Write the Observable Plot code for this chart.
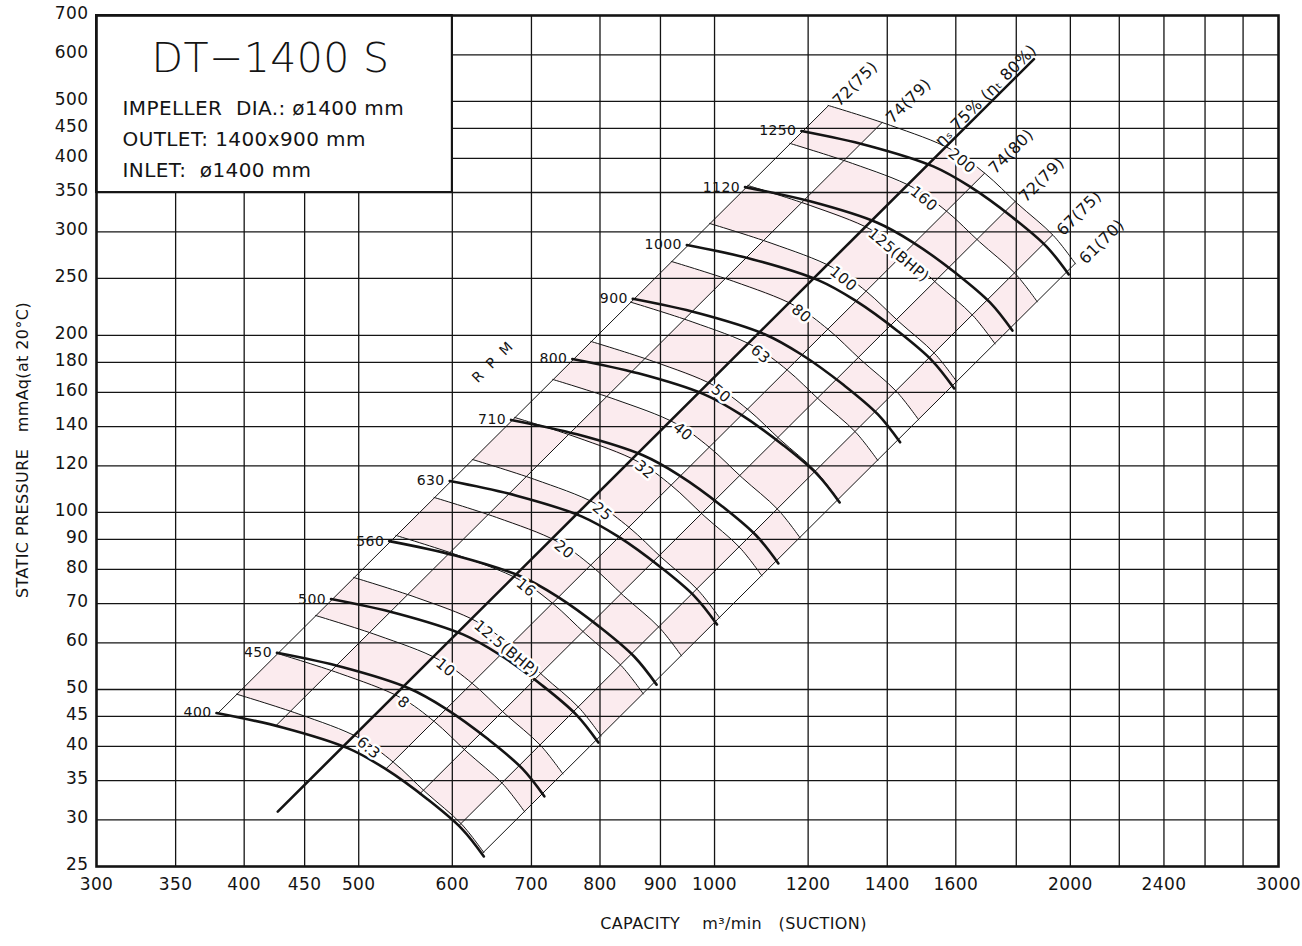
<!DOCTYPE html>
<html>
<head>
<meta charset="utf-8">
<script src="https://cdn.jsdelivr.net/npm/d3@7"></script>
<script src="https://cdn.jsdelivr.net/npm/@observablehq/plot@0.6"></script>
<style>
  html, body { margin: 0; padding: 0; background: #fff; }
  #chart svg { display: block; }
  #chart svg text { letter-spacing: 0.4px; }
</style>
</head>
<body>
<div id="chart"></div>
<script>
// ---------------- data ----------------
const xTickValues = [300, 350, 400, 450, 500, 600, 700, 800, 900, 1000, 1200, 1400, 1600, 2000, 2400, 3000];
const xGridValues = [350, 400, 450, 500, 600, 700, 800, 900, 1000, 1200, 1400, 1600, 1800, 2000, 2200, 2400, 2600, 2800];
const yTickValues = [25, 30, 35, 40, 45, 50, 60, 70, 80, 90, 100, 120, 140, 160, 180, 200, 250, 300, 350, 400, 450, 500, 600, 700];

// speed curves (thick): the 400 rpm curve, others follow the fan laws
const rpmValues = [400, 450, 500, 560, 630, 710, 800, 900, 1000, 1120, 1250];
const rpmBaseQ = [379, 431, 490, 526, 572, 611, 638];        // m3/min at 400 rpm
const rpmBaseP = [45.6, 43.1, 39.7, 36.7, 32.5, 29.0, 26.0]; // mmAq at 400 rpm

// shaft power curves (thin): the 6.3 BHP curve, others follow the fan laws
const bhpValues = [6.3, 8, 10, 12.5, 16, 20, 25, 32, 40, 50, 63, 80, 100, 125, 160, 200];
const bhpLabels = ["6.3", "8", "10", "12.5(BHP)", "16", "20", "25", "32", "40", "50", "63", "80", "100", "125(BHP)", "160", "200"];
const bhpBaseQ = [394, 445, 501, 535, 570, 611, 638];
const bhpBaseP = [49.1, 45.4, 41.3, 37.6, 33.4, 29.5, 26.4];

// efficiency lines (P = K·Q²), given by the capacity where each crosses 100 mmAq
const effLabels = ["72(75)", "74(79)", "ηₛ 75% (ηₜ 80%)", "74(80)", "72(79)", "67(75)", "61(70)"];
const effQat100 = [563, 646, 767, 871, 977, 1122, 1240];
const peakLineP = [31, 590]; // extent of the peak efficiency line

const titleBox = [{x1: 300, x2: 600, y1: 350, y2: 700}];
const titleLines = ["IMPELLER  DIA.: ø1400 mm", "OUTLET: 1400x900 mm", "INLET:  ø1400 mm"];
const modelName = "DT−1400 S";
const yTitle = "STATIC PRESSURE   mmAq(at 20°C)";
const xTitle = "CAPACITY    m³/min   (SUCTION)";

// ---------------- derived geometry ----------------
const rpmCurves = rpmValues.map(n => {
  const f = n / 400;
  return rpmBaseQ.map((q, i) => ({rpm: n, q: q * f, p: rpmBaseP[i] * f * f}));
});
const bhpCurves = bhpValues.map((w, j) => {
  const k = Math.cbrt(w / 6.3);
  return bhpBaseQ.map((q, i) => ({bhp: w, label: bhpLabels[j], q: q * k, p: bhpBaseP[i] * k * k}));
});
const effS = effQat100.map(q => Math.log10(100 / (q * q)));

const sOf = d => Math.log10(d.p) - 2 * Math.log10(d.q);
function crossAt(curve, s) {
  for (let i = 0; i < curve.length - 1; i++) {
    const a = curve[i], b = curve[i + 1], sa = sOf(a), sb = sOf(b);
    if ((sa - s) * (sb - s) <= 0 && sa !== sb) {
      const t = (sa - s) / (sa - sb);
      const lq = Math.log10(a.q) + t * (Math.log10(b.q) - Math.log10(a.q));
      const lp = Math.log10(a.p) + t * (Math.log10(b.p) - Math.log10(a.p));
      return {q: 10 ** lq, p: 10 ** lp};
    }
  }
  return null;
}
function between(curve, sHi, sLo) {
  const pts = [crossAt(curve, sHi)];
  curve.forEach(d => { const s = sOf(d); if (s < sHi && s > sLo) pts.push({q: d.q, p: d.p}); });
  pts.push(crossAt(curve, sLo));
  return pts;
}

const lowest = rpmCurves[0], highest = bhpCurves[bhpCurves.length - 1];

// pink checkerboard cells
const rows = [lowest, ...bhpCurves];
const cells = [];
for (let j = 0; j < rows.length - 1; j++) {
  for (let i = 0; i < effS.length - 1; i++) {
    if ((i + j) % 2 !== 1) continue;
    const lo = between(rows[j], effS[i], effS[i + 1]);
    const up = between(rows[j + 1], effS[i], effS[i + 1]).reverse();
    [...lo, ...up].forEach(pt => cells.push({id: i + "-" + j, q: pt.q, p: pt.p}));
  }
}

// efficiency lines
const effLines = [];
effS.forEach((s, i) => {
  if (i === 2) return;
  const a = crossAt(lowest, s), b = crossAt(highest, s);
  effLines.push({id: i, q: a.q, p: a.p}, {id: i, q: b.q, p: b.p});
});
const Keta = 10 ** effS[2];
const peakLine = peakLineP.map(p => ({q: Math.sqrt(p / Keta), p}));

const effLabelPts = effS.map((s, i) => ({...crossAt(highest, s), label: effLabels[i], i}));
const bhpLabelPts = bhpCurves.map(c => ({...crossAt(c, effS[2]), label: c[0].label}));
const rpmLabelPts = rpmCurves.map(c => ({q: c[0].q, p: c[0].p, label: String(c[0].rpm)}));

const ink = "#141414";

const chart = Plot.plot({
  width: 1302,
  height: 946,
  marginTop: 15,
  marginRight: 24,
  marginBottom: 80,
  marginLeft: 96,
  style: {fontFamily: "'DejaVu Sans', sans-serif", fontSize: "17px", color: ink, background: "#fff"},
  x: {type: "log", domain: [300, 3000], axis: null},
  y: {type: "log", domain: [25, 700], axis: null},
  marks: [
    Plot.line(cells, {x: "q", y: "p", z: "id", fill: "#fbebee", stroke: "none", curve: "linear"}),
    Plot.ruleX(xGridValues, {stroke: ink, strokeWidth: 1.3}),
    Plot.ruleY(yTickValues.slice(1, -1), {stroke: ink, strokeWidth: 1.3}),
    Plot.line(effLines, {x: "q", y: "p", z: "id", stroke: ink, strokeWidth: 1}),
    Plot.line(bhpCurves.flat(), {x: "q", y: "p", z: "bhp", stroke: ink, strokeWidth: 1, curve: "catmull-rom"}),
    Plot.line(rpmCurves.flat(), {x: "q", y: "p", z: "rpm", stroke: ink, strokeWidth: 2.6, curve: "catmull-rom"}),
    Plot.line(peakLine, {x: "q", y: "p", stroke: ink, strokeWidth: 2.6}),
    Plot.text(bhpLabelPts, {x: "q", y: "p", text: "label", rotate: 40, textAnchor: "start", lineAnchor: "middle",
      dx: 5, dy: 4, fontSize: 15, fill: ink, stroke: "white", strokeWidth: 5}),
    Plot.text(effLabelPts.filter(d => d.i !== 2), {x: "q", y: "p", text: "label", rotate: -45, textAnchor: "start",
      lineAnchor: "middle", dx: 7, dy: -2, fontSize: 16, fill: ink}),
    Plot.text(effLabelPts.filter(d => d.i === 2), {x: "q", y: "p", text: "label", rotate: -45, textAnchor: "start",
      lineAnchor: "bottom", dx: -4, dy: 0, fontSize: 16, fill: ink}),
    Plot.text(rpmLabelPts, {x: "q", y: "p", text: "label", textAnchor: "end", dx: -5, fontSize: 14, fill: ink}),
    Plot.text(["R  P  M"], {text: d => d, x: () => 649, y: () => 180, rotate: -45, fontSize: 14, fill: ink}),
    Plot.rect(titleBox, {x1: "x1", x2: "x2", y1: "y1", y2: "y2", fill: "white", stroke: ink, strokeWidth: 2}),
    Plot.text([modelName], {text: d => d, frameAnchor: "top-left", dx: 174, dy: 43, textAnchor: "middle", lineAnchor: "middle",
      fontSize: 41, fontWeight: 300, fill: ink}),
    Plot.text(titleLines.slice(0, 1), {text: d => d, frameAnchor: "top-left", dx: 26, dy: 93, textAnchor: "start", lineAnchor: "middle", fontSize: 20, fill: ink}),
    Plot.text(titleLines.slice(1, 2), {text: d => d, frameAnchor: "top-left", dx: 26, dy: 124, textAnchor: "start", lineAnchor: "middle", fontSize: 20, fill: ink}),
    Plot.text(titleLines.slice(2, 3), {text: d => d, frameAnchor: "top-left", dx: 26, dy: 155, textAnchor: "start", lineAnchor: "middle", fontSize: 20, fill: ink}),
    // axes
    Plot.text(yTickValues, {y: d => d, text: d => String(d), frameAnchor: "left", textAnchor: "end", lineAnchor: "middle", dx: -8, dy: -2, fontSize: 17, fill: ink}),
    Plot.text(xTickValues, {x: d => d, text: d => String(d), frameAnchor: "bottom", textAnchor: "middle", lineAnchor: "top", dy: 11, fontSize: 17, fill: ink}),
    Plot.text([yTitle], {text: d => d, frameAnchor: "left", textAnchor: "middle", dx: -74, dy: 9, rotate: -90, fontSize: 16, fill: ink}),
    Plot.text([xTitle], {text: d => d, frameAnchor: "bottom", textAnchor: "middle", dx: 46, dy: 62, fontSize: 16, fill: ink}),
    Plot.frame({stroke: ink, strokeWidth: 2.6})
  ]
});
document.getElementById("chart").append(chart);
</script>
</body>
</html>
